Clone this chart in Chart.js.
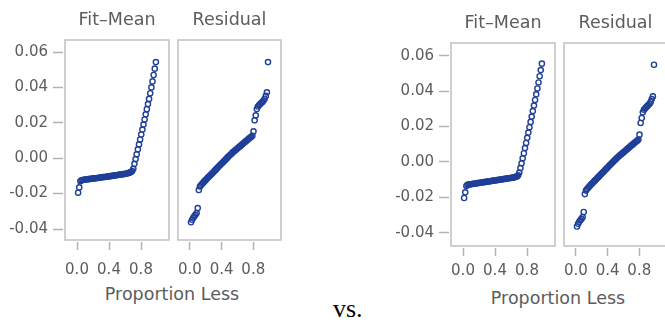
<!DOCTYPE html>
<html>
<head>
<meta charset="utf-8">
<script src="https://cdn.jsdelivr.net/npm/chart.js@4.4.1/dist/chart.umd.min.js"></script>
<style>
html,body{margin:0;padding:0;background:#fff;overflow:hidden;width:665px;height:324px;}
#stage{position:relative;width:665px;height:324px;overflow:hidden;}
#stage canvas{position:absolute;}
.axlabel{position:absolute;width:240px;text-align:center;font-family:"DejaVu Sans";font-size:17.5px;color:#5c5c5c;line-height:20px;white-space:nowrap;}
.vs{position:absolute;font-family:"Liberation Serif","Times New Roman",serif;font-size:26px;line-height:26px;color:#000;white-space:nowrap;}
</style>
</head>
<body>
<div id="stage"></div>
<script>
// ---- data ----
const proportionLess = [
  0.014,0.028,0.042,0.056,0.070,0.085,0.099,0.113,0.127,0.141,
  0.155,0.169,0.183,0.197,0.211,0.225,0.239,0.254,0.268,0.282,
  0.296,0.310,0.324,0.338,0.352,0.366,0.380,0.394,0.408,0.423,
  0.437,0.451,0.465,0.479,0.493,0.507,0.521,0.535,0.549,0.563,
  0.577,0.592,0.606,0.620,0.634,0.648,0.662,0.676,0.690,0.704,
  0.718,0.732,0.746,0.761,0.775,0.789,0.803,0.817,0.831,0.845,
  0.859,0.873,0.887,0.901,0.915,0.930,0.944,0.958,0.972,0.986
];
const fitMeanLeft = [
  -0.0195,-0.0165,-0.0130,-0.0125,-0.0123,-0.0122,-0.0121,-0.0120,-0.0119,-0.0118,
  -0.0118,-0.0117,-0.0116,-0.0115,-0.0114,-0.0113,-0.0113,-0.0112,-0.0111,-0.0110,
  -0.0109,-0.0108,-0.0107,-0.0106,-0.0106,-0.0105,-0.0104,-0.0103,-0.0102,-0.0101,
  -0.0100,-0.0099,-0.0098,-0.0097,-0.0096,-0.0095,-0.0094,-0.0093,-0.0092,-0.0091,
  -0.0090,-0.0089,-0.0088,-0.0087,-0.0085,-0.0083,-0.0081,-0.0078,-0.0072,-0.0060,
  -0.0032,-0.0005,0.0022,0.0050,0.0078,0.0106,0.0134,0.0162,0.0190,0.0219,
  0.0248,0.0277,0.0306,0.0335,0.0367,0.0400,0.0434,0.0470,0.0506,0.0543
];
const residualLeft = [
  -0.0362,-0.0348,-0.0336,-0.0328,-0.0320,-0.0310,-0.0282,-0.0180,-0.0160,-0.0152,
  -0.0145,-0.0138,-0.0131,-0.0124,-0.0118,-0.0111,-0.0105,-0.0098,-0.0092,-0.0085,
  -0.0079,-0.0072,-0.0066,-0.0059,-0.0053,-0.0046,-0.0040,-0.0033,-0.0027,-0.0020,
  -0.0014,-0.0007,-0.0001,0.0006,0.0012,0.0018,0.0024,0.0030,0.0036,0.0041,
  0.0046,0.0052,0.0057,0.0063,0.0068,0.0073,0.0079,0.0084,0.0090,0.0095,
  0.0100,0.0106,0.0111,0.0116,0.0121,0.0127,0.0152,0.0214,0.0242,0.0278,
  0.0292,0.0299,0.0306,0.0312,0.0318,0.0326,0.0336,0.0352,0.0372,0.0543
];
const fitMeanRight = [
  -0.0204,-0.0172,-0.0136,-0.0130,-0.0128,-0.0127,-0.0126,-0.0125,-0.0124,-0.0123,
  -0.0122,-0.0121,-0.0120,-0.0119,-0.0118,-0.0117,-0.0116,-0.0115,-0.0114,-0.0113,
  -0.0112,-0.0111,-0.0110,-0.0109,-0.0108,-0.0107,-0.0106,-0.0105,-0.0104,-0.0103,
  -0.0102,-0.0101,-0.0100,-0.0099,-0.0098,-0.0097,-0.0096,-0.0095,-0.0094,-0.0093,
  -0.0092,-0.0091,-0.0090,-0.0089,-0.0088,-0.0086,-0.0084,-0.0082,-0.0076,-0.0060,
  -0.0035,-0.0008,0.0020,0.0049,0.0078,0.0107,0.0136,0.0166,0.0196,0.0226,
  0.0256,0.0287,0.0318,0.0350,0.0382,0.0415,0.0449,0.0484,0.0519,0.0555
];
const residualRight = [
  -0.0365,-0.0350,-0.0338,-0.0330,-0.0322,-0.0312,-0.0283,-0.0182,-0.0162,-0.0153,
  -0.0146,-0.0139,-0.0132,-0.0125,-0.0119,-0.0112,-0.0106,-0.0099,-0.0093,-0.0086,
  -0.0080,-0.0073,-0.0067,-0.0060,-0.0054,-0.0047,-0.0041,-0.0034,-0.0028,-0.0021,
  -0.0015,-0.0008,-0.0002,0.0005,0.0011,0.0017,0.0023,0.0029,0.0035,0.0040,
  0.0045,0.0051,0.0056,0.0062,0.0067,0.0072,0.0078,0.0083,0.0089,0.0094,
  0.0099,0.0105,0.0110,0.0115,0.0120,0.0126,0.0154,0.0220,0.0248,0.0280,
  0.0295,0.0302,0.0309,0.0315,0.0321,0.0329,0.0339,0.0355,0.0370,0.0549
];
const yTickValues = [-0.04, -0.02, 0.00, 0.02, 0.04, 0.06];
const xTickValues = [0.0, 0.4, 0.8];
const panelTitles = ['Fit\u2013Mean', 'Residual'];
const xAxisTitle = 'Proportion Less';
const separatorText = 'vs.';

// ---- layout / style ----
const TEXT = '#5c5c5c';
const MARK = '#1f3f98';
const FRAME = '#c4c4c4';
const TICK = '#b3b3b3';
const FONT = '"DejaVu Sans"';

const figures = [
  {ox:0,   oy:0, frameH:200, yMin:-0.04621, yMax:0.06678, xPad:11, labelCx:172, labelBase:300,
   series:[fitMeanLeft, residualLeft]},
  {ox:386, oy:3, frameH:203, yMin:-0.04751, yMax:0.06718, xPad:6,  labelCx:558, labelBase:304,
   series:[fitMeanRight, residualRight]}
];

const panelFrame = {
  id:'panelFrame',
  beforeDatasetsDraw(chart){
    const a = chart.chartArea, ctx = chart.ctx;
    ctx.save();
    ctx.strokeStyle = FRAME; ctx.lineWidth = 1.6;
    ctx.strokeRect(a.left, a.top, a.right - a.left, a.bottom - a.top);
    ctx.restore();
  }
};
const panelTitle = {
  id:'panelTitle',
  afterDraw(chart, args, opts){
    const a = chart.chartArea, ctx = chart.ctx;
    ctx.save();
    ctx.font = '17.5px ' + FONT; ctx.fillStyle = TEXT;
    ctx.textAlign = 'center'; ctx.textBaseline = 'alphabetic';
    ctx.fillText(opts.text, (a.left + a.right) / 2, a.top - 15);
    ctx.restore();
  }
};

const stage = document.getElementById('stage');

function makePanel(fig, idx){
  const first = idx === 0;
  const cv = document.createElement('canvas');
  const w = first ? 173 : 111;
  const h = 40 + fig.frameH + 40;
  cv.width = w; cv.height = h;
  cv.style.left = (fig.ox + (first ? 0 : 174)) + 'px';
  cv.style.top = fig.oy + 'px';
  cv.style.width = w + 'px'; cv.style.height = h + 'px';
  stage.appendChild(cv);
  const ys = fig.series[idx];
  new Chart(cv, {
    type:'scatter',
    data:{datasets:[{
      data: proportionLess.map((x, i) => ({x:x, y:ys[i]})),
      showLine:false,
      pointStyle:'circle',
      pointRadius:2.6,
      pointBorderWidth:1.4,
      pointBorderColor:MARK,
      pointBackgroundColor:'rgba(255,255,255,0)',
      pointHoverRadius:2.6
    }]},
    options:{
      responsive:false, animation:false, devicePixelRatio:1,
      layout:{padding:{top:40, right:2, left: first ? 0 : 2, bottom:0}},
      plugins:{legend:{display:false}, tooltip:{enabled:false}, title:{display:false},
               panelTitle:{text: panelTitles[idx]}},
      scales:{
        x:{
          type:'linear', min:-0.15, max:1.15,
          afterBuildTicks: s => { s.ticks = xTickValues.map(v => ({value:v})); },
          afterFit: s => { s.height = 40; s.paddingLeft = 0; s.paddingRight = 0; },
          border:{display:false},
          grid:{drawOnChartArea:false, drawTicks:true, tickLength:10, tickColor:TICK, tickWidth:1.5,
                tickBorderDash:[0,2,8,100]},
          ticks:{autoSkip:false, maxRotation:0, minRotation:0, padding:fig.xPad, color:TEXT,
                 font:{family:FONT, size:15}, callback: v => Number(v).toFixed(1)}
        },
        y:{
          type:'linear', min:fig.yMin, max:fig.yMax, display:first,
          afterBuildTicks: s => { s.ticks = yTickValues.map(v => ({value:v})); },
          afterFit: s => { s.width = first ? 65 : 0; s.paddingTop = 0; s.paddingBottom = 0; },
          border:{display:false},
          grid:{drawOnChartArea:false, drawTicks:true, tickLength:12, tickColor:TICK, tickWidth:1.5,
                tickBorderDash:[10,100]},
          ticks:{autoSkip:false, padding:5, color:TEXT, font:{family:FONT, size:15},
                 callback: v => Number(v).toFixed(2)}
        }
      }
    },
    plugins:[panelFrame, panelTitle]
  });
}

figures.forEach(fig => {
  makePanel(fig, 0);
  makePanel(fig, 1);
  const d = document.createElement('div');
  d.className = 'axlabel';
  d.textContent = xAxisTitle;
  d.style.left = (fig.labelCx - 120) + 'px';
  d.style.top = (fig.labelBase - 16) + 'px';
  stage.appendChild(d);
});
const vs = document.createElement('div');
vs.className = 'vs';
vs.textContent = separatorText;
vs.style.left = '333px';
vs.style.top = '296px';
stage.appendChild(vs);
</script>
</body>
</html>
